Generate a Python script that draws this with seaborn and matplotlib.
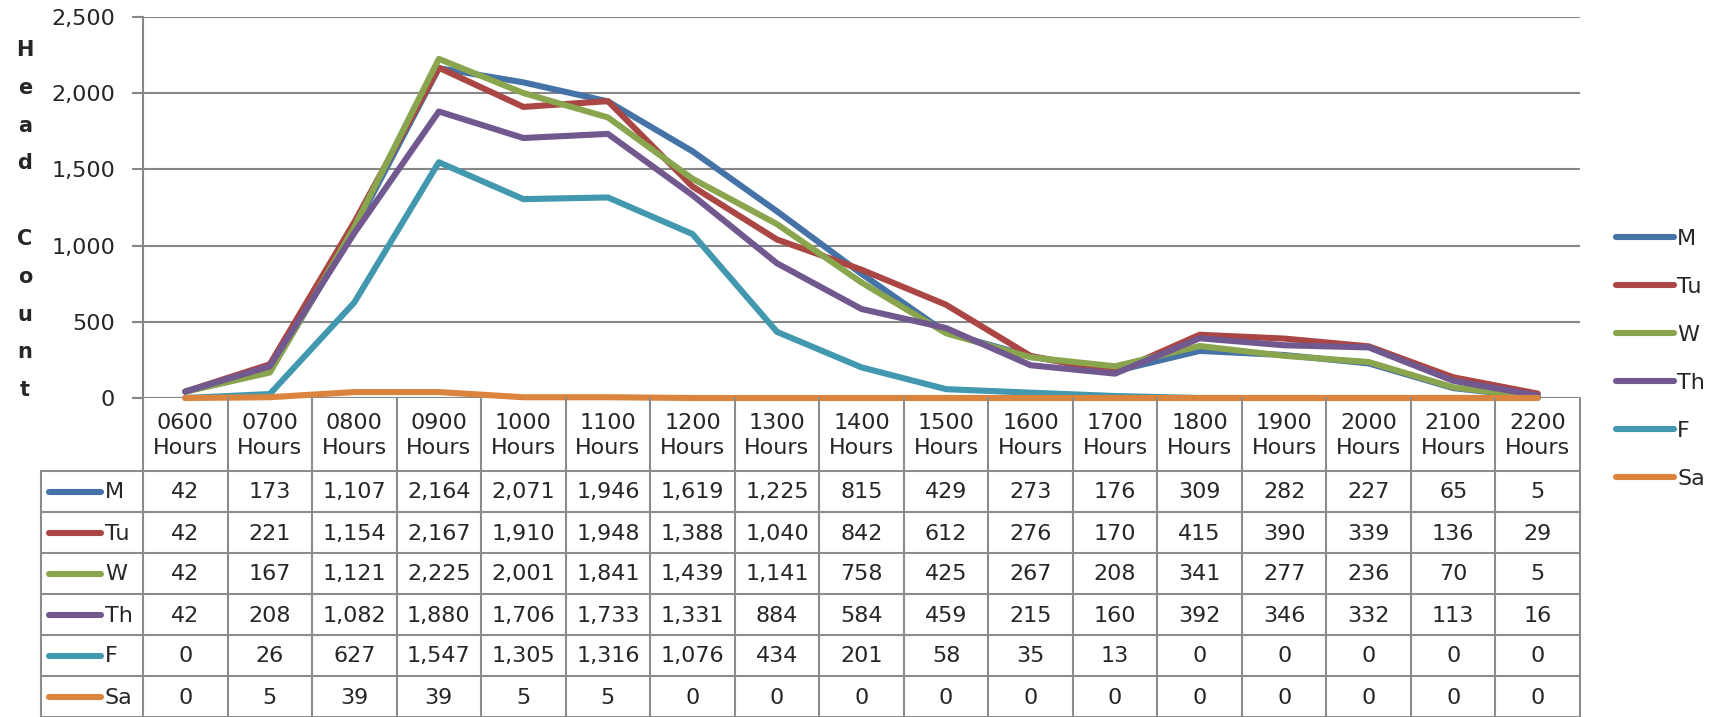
import matplotlib
matplotlib.use("Agg")
import matplotlib.pyplot as plt
import matplotlib.ticker as mticker
import pandas as pd
import seaborn as sns

# hours on the x axis
hours = ['0600', '0700', '0800', '0900', '1000', '1100', '1200', '1300', '1400',
         '1500', '1600', '1700', '1800', '1900', '2000', '2100', '2200']
days = ['M', 'Tu', 'W', 'Th', 'F', 'Sa']

mon = [42, 173, 1107, 2164, 2071, 1946, 1619, 1225, 815, 429, 273, 176, 309, 282, 227, 65, 5]
tue = [42, 221, 1154, 2167, 1910, 1948, 1388, 1040, 842, 612, 276, 170, 415, 390, 339, 136, 29]
wed = [42, 167, 1121, 2225, 2001, 1841, 1439, 1141, 758, 425, 267, 208, 341, 277, 236, 70, 5]
thu = [42, 208, 1082, 1880, 1706, 1733, 1331, 884, 584, 459, 215, 160, 392, 346, 332, 113, 16]
fri = [0, 26, 627, 1547, 1305, 1316, 1076, 434, 201, 58, 35, 13, 0, 0, 0, 0, 0]
sat = [0, 5, 39, 39, 5, 5, 0, 0, 0, 0, 0, 0, 0, 0, 0, 0, 0]

colors = ['#4572A7', '#AA4643', '#89A54E', '#71588F', '#4198AF', '#DB843D']

series = [mon, tue, wed, thu, fri, sat]
rows = []
for d, vals in zip(days, series):
    for i, v in enumerate(vals):
        rows.append({'day': d, 'pos': i, 'count': v})
df = pd.DataFrame(rows)

sns.set_style('white')
plt.rcParams['font.family'] = ['DejaVu Sans']

W, H = 1725, 717
fig = plt.figure(figsize=(W / 100, H / 100), dpi=100)

# pixel layout of the plot area
left, right, top, bottom = 143, 1580, 17, 398
ax = fig.add_axes([left / W, 1 - bottom / H, (right - left) / W, (bottom - top) / H])

grid_c = '#878787'
sns.lineplot(data=df, x='pos', y='count', hue='day', hue_order=days, palette=colors,
             linewidth=4.4, ax=ax, legend=False, clip_on=False, zorder=3)
ax.set_xlim(-0.5, len(hours) - 0.5)
ax.set_ylim(0, 2500)
ax.yaxis.set_major_locator(mticker.MultipleLocator(500))
ax.yaxis.set_major_formatter(mticker.FuncFormatter(lambda v, p: f'{int(v):,}'))
ax.set_xticks([])
ax.set_xlabel('')
ax.set_ylabel('')
ax.grid(axis='y', color=grid_c, linewidth=1.5, zorder=0)
for s in ['top', 'right', 'bottom']:
    ax.spines[s].set_visible(False)
ax.spines['left'].set_color(grid_c)
ax.spines['left'].set_linewidth(1.5)
ax.tick_params(axis='y', length=8, width=1.5, color=grid_c, labelsize=16, pad=12, left=True)
ax.axhline(0, color=grid_c, linewidth=1.5, zorder=1)

# vertical stacked y label
label = 'Head Count'
y0, step = 50, 37.8
for k, ch in enumerate(label):
    if ch != ' ':
        fig.text(25 / W, 1 - (y0 + k * step) / H, ch, fontsize=15, fontweight='bold',
                 ha='center', va='center')

# data table below
tleft = 41
lab_w = (left - tleft) / ((right - left) / len(hours))
tax = fig.add_axes([tleft / W, 0, (right - tleft) / W, (H - bottom) / H])
x0 = -0.5 - lab_w
tax.set_xlim(x0, len(hours) - 0.5)
tax.set_ylim(H - bottom, 0)
tax.axis('off')

head_h, row_h = 73, 41
lc = '#8c8c8c'
# header row
for i, h in enumerate(hours):
    tax.text(i, head_h / 2 + 1, f'{h}\nHours', ha='center', va='center', fontsize=16,
             linespacing=1.3)
for i in range(len(hours) + 1):
    tax.plot([i - 0.5, i - 0.5], [0, H - bottom + 5], color=lc, lw=1.5, clip_on=False)
tax.plot([x0, x0], [head_h, H - bottom + 5], color=lc, lw=1.5, clip_on=False)
for r in range(len(days) + 1):
    yy = head_h + r * row_h
    tax.plot([x0, len(hours) - 0.5], [yy, yy], color=lc, lw=1.5, clip_on=False)

px = 1 / ((right - left) / len(hours))
for r, (d, vals, c) in enumerate(zip(days, series, colors)):
    yc = head_h + r * row_h + row_h / 2
    tax.plot([x0 + 8 * px, x0 + 60 * px], [yc, yc], color=c, lw=4.4,
             solid_capstyle='round')
    tax.text(x0 + 64 * px, yc + 1, d, ha='left', va='center', fontsize=16)
    for i, v in enumerate(vals):
        tax.text(i, yc + 1, f'{v:,}', ha='center', va='center', fontsize=16)

# legend on the right
handles = [plt.Line2D([], [], color=c, lw=4.4, solid_capstyle='round') for c in colors]
fig.legend(handles, days, loc='center left', bbox_to_anchor=(1616 / W, 1 - 359 / H),
           frameon=False, fontsize=16, handlelength=2.6, handletextpad=0.15,
           labelspacing=1.26, borderpad=0, borderaxespad=0)

fig.savefig('out.png', dpi=100)
